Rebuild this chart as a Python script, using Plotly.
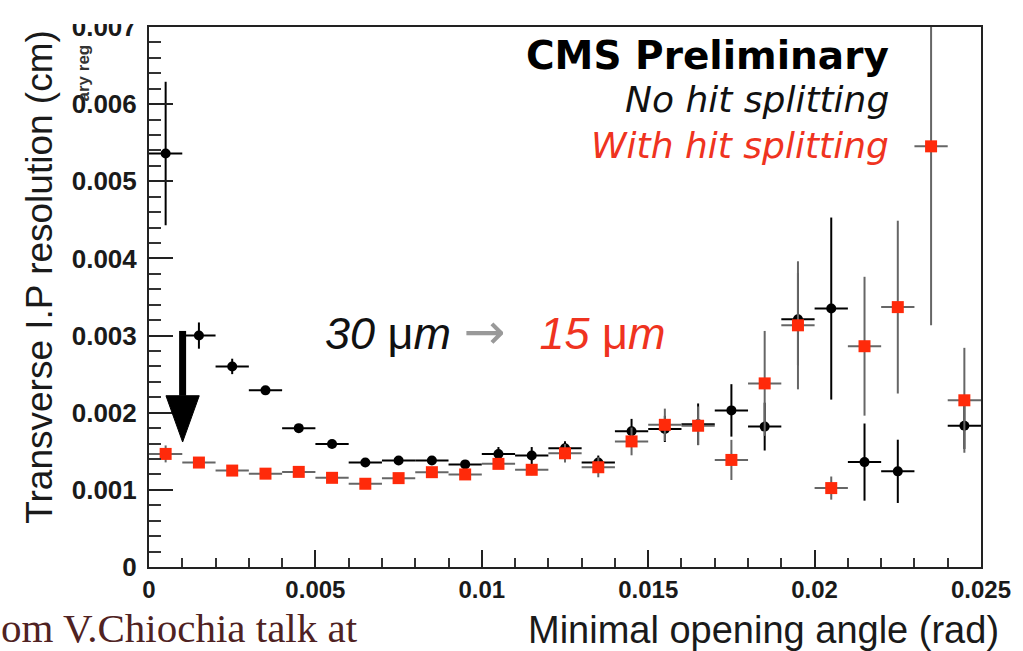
import plotly.graph_objects as go

# Bin centres of the opening-angle histogram (rad), 25 bins of width 0.001
angle = [0.0005, 0.0015, 0.0025, 0.0035, 0.0045, 0.0055, 0.0065, 0.0075, 0.0085,
         0.0095, 0.0105, 0.0115, 0.0125, 0.0135, 0.0145, 0.0155, 0.0165, 0.0175,
         0.0185, 0.0195, 0.0205, 0.0215, 0.0225, 0.0235, 0.0245]
half_bin = [0.0005] * len(angle)

# Transverse IP resolution (cm) without hit splitting
res_nosplit = [0.00536, 0.00300, 0.00260, 0.00229, 0.00180, 0.001595, 0.001355, 0.00138,
               0.00138, 0.00133, 0.001465, 0.001445, 0.00154, 0.001355, 0.00176, 0.00179,
               0.00185, 0.00203, 0.00182, 0.00321, 0.00335, 0.00136, 0.00124, None, 0.00183]
err_nosplit = [0.00093, 0.00017, 0.00010, 0.00005, 0.00005, 0.00005, 0.00004, 0.00004,
               0.00004, 0.00005, 0.00009, 0.00011, 0.00009, 0.00009, 0.00016, 0.00017,
               0.00027, 0.00034, 0.00031, 0.00060, 0.00118, 0.00050, 0.00041, None, 0.00030]

# Transverse IP resolution (cm) with hit splitting
res_split = [0.001466, 0.001354, 0.00125, 0.00121, 0.001233, 0.001156, 0.001079, 0.001152,
             0.001229, 0.00120, 0.001337, 0.00126, 0.001474, 0.001293, 0.001628, 0.001843,
             0.001831, 0.001388, 0.00238, 0.003133, 0.001023, 0.002862, 0.003369, 0.005453,
             0.002161]
err_split = [0.00011, 0.00005, 0.00004, 0.00004, 0.00004, 0.00004, 0.00004, 0.00004,
             0.00004, 0.00005, 0.00006, 0.00007, 0.00012, 0.00013, 0.00018, 0.00021,
             0.00025, 0.00026, 0.00068, 0.00083, 0.00015, 0.00090, 0.00112, 0.00232, 0.00068]

x_ticks = [0, 0.005, 0.01, 0.015, 0.02, 0.025]
x_ticktext = ["0", "0.005", "0.01", "0.015", "0.02", "0.025"]
y_ticks = [0, 0.001, 0.002, 0.003, 0.004, 0.005, 0.006, 0.007]
y_ticktext = ["0", "0.001", "0.002", "0.003", "0.004", "0.005", "0.006", "0.007"]

RED = "#ff2a0a"
RED_TEXT = "#ef3320"
INK = "#111111"

W, H = 1023, 651
L, R, T, B = 149, 33, 24, 84
PW, PH = W - L - R, H - T - B


def px(x):
    return (x - L) / PW


def py(y):
    return (H - B - y) / PH


fig = go.Figure()

fig.add_trace(go.Scatter(
    x=angle, y=res_nosplit, mode="markers", name="No hit splitting",
    marker=dict(symbol="circle", size=10, color="black"),
    error_x=dict(type="data", array=half_bin, width=0, thickness=2, color="black"),
    error_y=dict(type="data", array=err_nosplit, width=0, thickness=2, color="black"),
))
fig.add_trace(go.Scatter(
    x=angle, y=res_split, mode="markers", name="With hit splitting",
    marker=dict(symbol="square", size=12, color=RED),
    error_x=dict(type="data", array=half_bin, width=0, thickness=2, color="#666666"),
    error_y=dict(type="data", array=err_split, width=0, thickness=2, color="#666666"),
))

# Downward arrow marking the first bin improvement
arrow_x, arrow_top, arrow_base, arrow_tip, arrow_half = 0.00101, 0.00306, 0.00222, 0.00162, 0.0005
fig.add_shape(type="line", xref="x", yref="y", x0=arrow_x, x1=arrow_x,
              y0=arrow_top, y1=arrow_base, line=dict(color="black", width=7))
fig.add_shape(type="path", xref="x", yref="y",
              path=f"M {arrow_x - arrow_half},{arrow_base} L {arrow_x + arrow_half},{arrow_base} "
                   f"L {arrow_x},{arrow_tip} Z",
              fillcolor="black", line=dict(color="black", width=1))
# Page edge mask above the frame on the left (the top label is clipped there)
fig.add_shape(type="rect", xref="paper", yref="paper", layer="above",
              x0=px(50), x1=px(146), y0=py(0), y1=py(21),
              fillcolor="white", line=dict(width=0))

ann = []
# Header and legend-like labels
ann.append(dict(x=px(899), y=py(53), xref="paper", yref="paper", xanchor="right", yanchor="middle",
                text="<b>CMS Preliminary</b>", showarrow=False,
                font=dict(family="DejaVu Sans", size=39, color="black")))
ann.append(dict(x=px(899), y=py(97), xref="paper", yref="paper", xanchor="right", yanchor="middle",
                text="<i>No hit splitting</i>", showarrow=False,
                font=dict(family="DejaVu Sans", size=36, color=INK)))
ann.append(dict(x=px(899), y=py(143), xref="paper", yref="paper", xanchor="right", yanchor="middle",
                text="<i>With hit splitting</i>", showarrow=False,
                font=dict(family="DejaVu Sans", size=36, color=RED_TEXT)))
# 30 um -> 15 um label
ann.append(dict(x=px(325), y=py(331), xref="paper", yref="paper", xanchor="left", yanchor="middle",
                text=("<i>30 </i>μ<i>m</i>&nbsp;<span style='font-family:DejaVu Sans;font-size:50px;"
                      "color:#999999'>→</span>&nbsp;&nbsp;&#8201;"
                      f"<span style='color:{RED_TEXT}'><i>15 </i>μ<i>m</i></span>"),
                showarrow=False,
                font=dict(family="Liberation Sans", size=45, color=INK)))
# Axis titles
ann.append(dict(x=px(1010), y=py(630), xref="paper", yref="paper", xanchor="right", yanchor="middle",
                text="Minimal opening angle (rad)", showarrow=False,
                font=dict(family="Liberation Sans", size=38, color="#1a1a1a")))
ann.append(dict(x=px(38), y=py(26), xref="paper", yref="paper", xanchor="center", yanchor="top",
                text="Transverse I.P resolution (cm)", textangle=-90, showarrow=False,
                font=dict(family="Liberation Sans", size=37, color="#1a1a1a")))
# Stray rotated label and footer text at the page edges
ann.append(dict(x=px(83), y=py(70), xref="paper", yref="paper", xanchor="center", yanchor="middle",
                text="<b>ary reg</b>", textangle=-90, showarrow=False,
                font=dict(family="Liberation Sans", size=17, color="#333333")))
ann.append(dict(x=px(-3), y=py(628), xref="paper", yref="paper", xanchor="left", yanchor="middle",
                text="om V.Chiochia talk at", showarrow=False,
                font=dict(family="Liberation Serif", size=41, color="#4f2222")))

fig.update_layout(
    width=W, height=H,
    margin=dict(l=L, r=R, t=T, b=B, pad=0),
    paper_bgcolor="white", plot_bgcolor="white",
    showlegend=False,
    annotations=ann,
    xaxis=dict(
        range=[0, 0.025], tickmode="array", tickvals=x_ticks, ticktext=x_ticktext,
        ticks="inside", ticklen=17, tickwidth=2, tickcolor="#222222",
        minor=dict(tick0=0, dtick=0.001, ticks="inside", ticklen=9, tickwidth=1.5, tickcolor="#333333"),
        showline=True, linecolor="#222222", linewidth=2, mirror=True,
        showgrid=False, zeroline=False,
        tickfont=dict(family="Liberation Sans", size=24, color="#1a1a1a", weight="bold"),
        ticklabelstandoff=0,
    ),
    yaxis=dict(
        range=[0, 0.007], tickmode="array", tickvals=y_ticks, ticktext=y_ticktext,
        ticks="inside", ticklen=24, tickwidth=2, tickcolor="#222222",
        minor=dict(tick0=0, dtick=0.0002, ticks="inside", ticklen=12, tickwidth=1.5, tickcolor="#333333"),
        showline=True, linecolor="#222222", linewidth=2, mirror=True,
        showgrid=False, zeroline=False,
        tickfont=dict(family="Liberation Sans", size=26, color="#1a1a1a", weight="bold"),
        ticklabelstandoff=5,
    ),
)

fig.write_html("out.html")
